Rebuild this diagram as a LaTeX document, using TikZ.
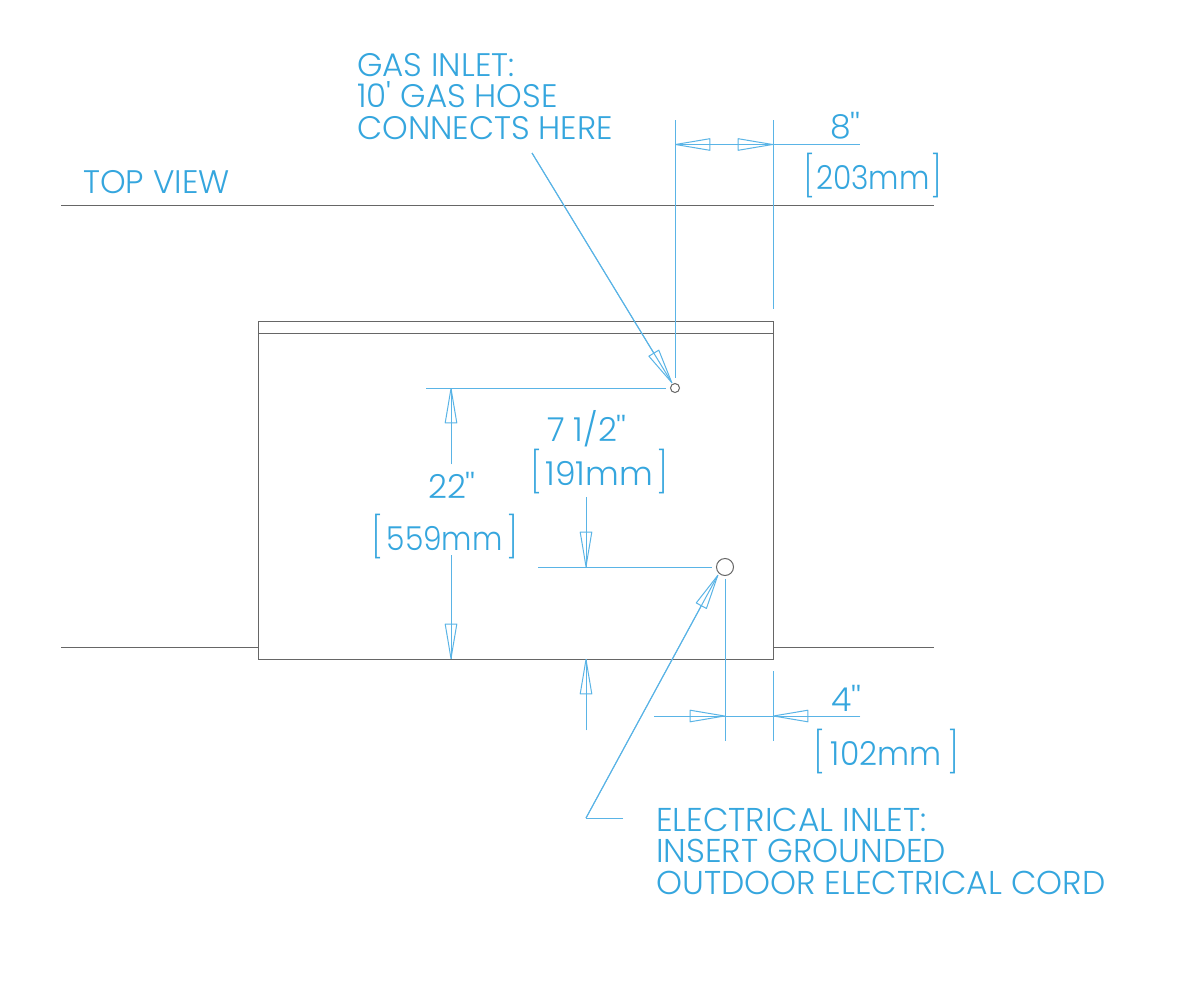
\documentclass[tikz,border=0pt]{standalone}
\usepackage{fontspec}
\usetikzlibrary{arrows.meta}
\newfontfamily\labfont{Poppins Light}
\newfontfamily\brkfont{Poppins ExtraLight}
\definecolor{ink}{HTML}{35A6DE}
\definecolor{dimc}{HTML}{5AB4E6}
\definecolor{wall}{HTML}{666666}
\newcommand{\bracketed}[3][0.9]{\makebox[#2][s]{{\brkfont\fontsize{40}{40}\selectfont\raisebox{-1.5pt}{[}}\hfil\scalebox{#1}[1]{#3}\hfil{\brkfont\fontsize{40}{40}\selectfont\raisebox{-1.5pt}{]}}}}
\tikzset{
  wallline/.style={draw=wall,line width=1pt},
  dimline/.style={draw=dimc,line width=1pt},
  dimtip/.style={dimline,-{Triangle[open,length=38pt,width=12.5pt,round]},preaction={draw=dimc,line width=1pt,arrows=-}},
  label/.style={text=ink,inner sep=0pt,anchor=base west,font=\labfont\fontsize{33}{31.5}\selectfont,align=left},
  tightlabel/.style={label,font=\labfont\fontsize{32.6}{31.5}\selectfont},
  inlet/.style={circle,draw=wall,line width=1pt,fill=white,inner sep=0pt},
}
\begin{document}
\begin{tikzpicture}[x=1pt,y=-1pt]
\useasboundingbox (0,0) rectangle (1200,988);
\fill[white] (0,0) rectangle (1200,988);
% walls and box
\coordinate (tl) at (61,205); \coordinate (tr) at (934,205);
\coordinate (bl) at (61,647); \coordinate (bl2) at (258,647);
\coordinate (br2) at (773,647); \coordinate (br) at (934,647);
\coordinate (b1) at (258,321); \coordinate (b2) at (773,659);
\coordinate (l1) at (258,333); \coordinate (l2) at (773,333);
\draw[wallline] (tl) -- (tr);
\draw[wallline] (bl) -- (bl2);
\draw[wallline] (br2) -- (br);
\draw[wallline] (b1) rectangle (b2);
\draw[wallline] (l1) -- (l2);
% dimension lines
\foreach \n/\x/\y in {a1/675/120,a2/675/378,a3/773/120,a4/773/309,a5/675/144.5,a6/860/144.5,a7/773/144.5,
  c1/426/388,c2/666/388,d1/451/464,d2/451/388,d3/451/555,d4/451/659,
  e1/586/497,e2/586/567,e3/538/567,e4/712/567,e5/586/730,e6/586/659,
  f1/725/579,f2/725/741,f3/773/671,f4/773/741,f5/654/716,f6/860/716,f7/725/716,f8/773/716,
  g1/532/153,g2/672/383,h1/623/818,h2/586/818,h3/718/575}
  {\coordinate (\n) at (\x,\y);}
\draw[dimline] (a1) -- (a2);
\draw[dimline] (a3) -- (a4);
\draw[dimline] (a5) -- (a6);
\draw[dimtip] (a7) -- (a5);
\draw[dimtip] (a5) -- (a7);
\draw[dimline] (c1) -- (c2);
\draw[dimtip] (d1) -- (d2);
\draw[dimtip] (d3) -- (d4);
\draw[dimtip] (e1) -- (e2);
\draw[dimline] (e3) -- (e4);
\draw[dimtip] (e5) -- (e6);
\draw[dimline] (f1) -- (f2);
\draw[dimline] (f3) -- (f4);
\draw[dimline] (f5) -- (f6);
\draw[dimtip] (f5) -- (f7);
\draw[dimtip] (f6) -- (f8);
\draw[dimtip] (g1) -- (g2);
\draw[dimline] (h1) -- (h2);
\draw[dimtip] (h2) -- (h3);
% inlets
\node[inlet,minimum size=9pt] (gas) at (675,388) {};
\node[inlet,minimum size=17pt] (elec) at (725,567) {};
% labels
\node[tightlabel] (topview) at (83,193) {TOP VIEW};
\node[tightlabel] (gastext) at (357,139) {GAS INLET:\\10' GAS HOSE\\CONNECTS HERE};
\node[label] (d8) at (830,138) {8''};
\node[label] (d203) at (803,189) {\bracketed{139pt}{203mm}};
\node[label] (d712) at (547,441) {7 1/2''};
\node[label] (d191) at (530,485) {\bracketed[1]{138pt}{191mm}};
\node[label] (d22) at (428,498) {22''};
\node[label] (d559) at (371,550) {\bracketed{147pt}{559mm}};
\node[label] (d4in) at (831,711) {4''};
\node[label] (d102) at (813,765) {\bracketed[0.95]{146pt}{102mm}};
\node[label] (electext) at (656,894) {ELECTRICAL INLET:\\INSERT GROUNDED\\OUTDOOR ELECTRICAL CORD};
\end{tikzpicture}
\end{document}
